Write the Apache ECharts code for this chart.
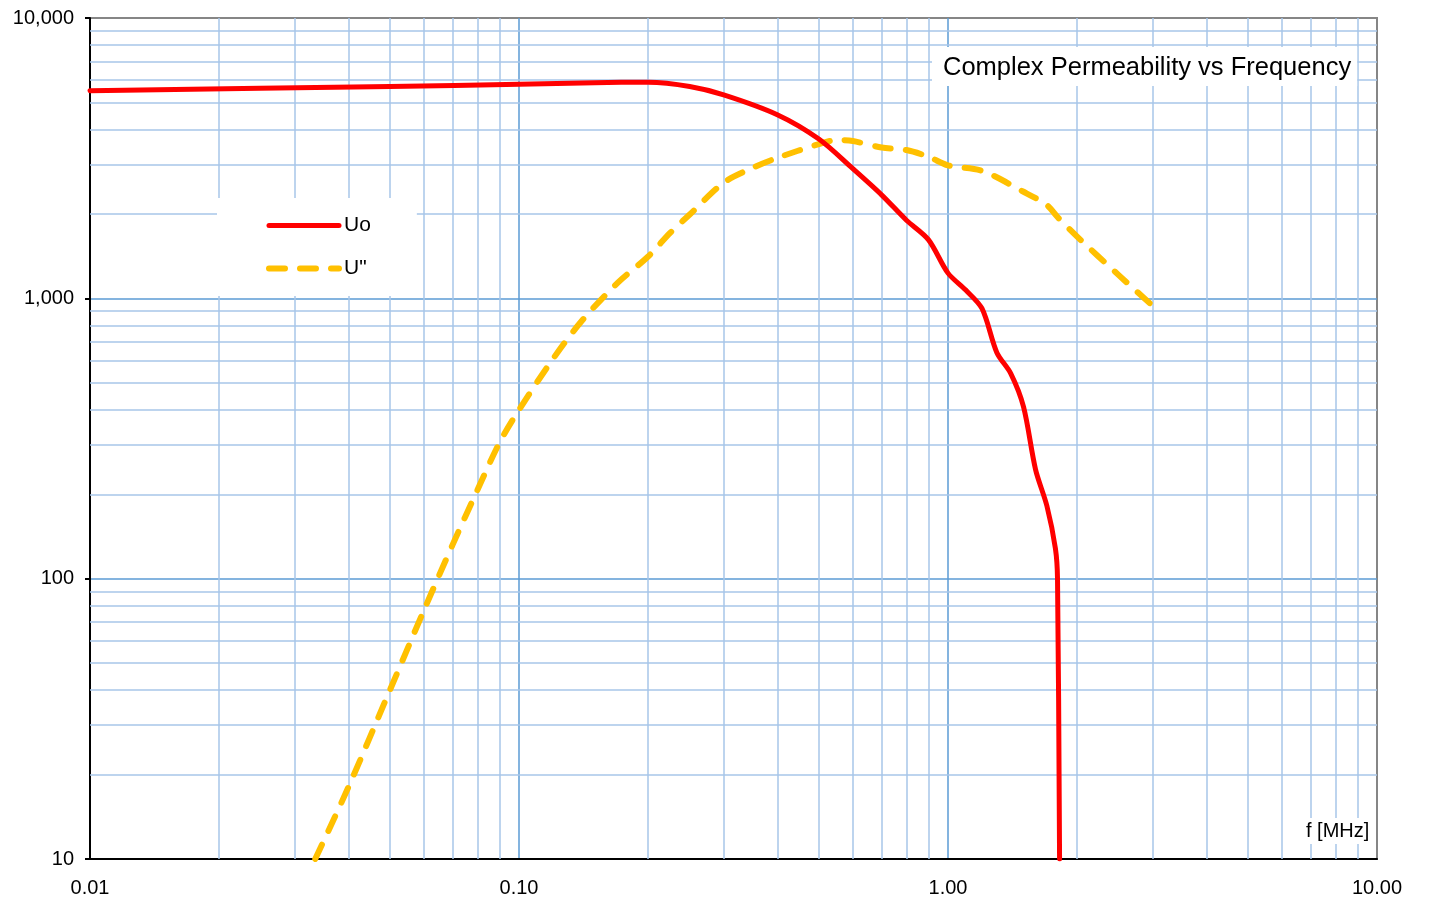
<!DOCTYPE html>
<html>
<head>
<meta charset="utf-8">
<script src="https://cdn.jsdelivr.net/npm/echarts@6/dist/echarts.min.js"></script>
<style>
html,body{margin:0;padding:0;background:#fff;}
#chart{width:1429px;height:902px;}
</style>
</head>
<body>
<div id="chart"></div>
<script>
// ---- data ----
const freqUo = [0.01, 0.05, 0.1, 0.15, 0.2, 0.25, 0.3, 0.4, 0.5, 0.6, 0.7, 0.8, 0.9, 1.0, 1.1, 1.2, 1.3, 1.4, 1.5, 1.6, 1.7, 1.78, 1.8, 1.82];
const valUo  = [5500, 5700, 5800, 5880, 5900, 5700, 5320, 4520, 3700, 2900, 2340, 1900, 1620, 1230, 1070, 920, 640, 540, 410, 245, 182, 128, 100, 10];
const freqU2 = [0.0335, 0.04, 0.05, 0.06, 0.07, 0.08, 0.09, 0.1, 0.12, 0.14, 0.17, 0.2, 0.225, 0.25, 0.3, 0.35, 0.4, 0.5, 0.55, 0.6, 0.7, 0.8, 0.9, 1.0, 1.2, 1.5, 1.7, 1.8, 2.0, 2.5, 3.0];
const valU2  = [10, 18, 40, 77, 132, 207, 305, 400, 608, 830, 1138, 1410, 1711, 1990, 2585, 2920, 3170, 3550, 3670, 3640, 3450, 3380, 3200, 2980, 2850, 2400, 2150, 1950, 1660, 1210, 940];
const seriesNames = ['Uo', 'U"'];
const chartTitle = 'Complex Permeability vs Frequency';
const xAxisName = 'f [MHz]';
const xDecades = [0.01, 0.1, 1];
const yDecades = [10, 100, 1000];
const minorMultipliers = [2, 3, 4, 5, 6, 7, 8, 9];

const FONT = "'Liberation Sans', Arial, sans-serif";
const minorX = [], minorY = [];
xDecades.forEach(d => minorMultipliers.forEach(m => minorX.push(+(d * m).toPrecision(6))));
yDecades.forEach(d => minorMultipliers.forEach(m => minorY.push(+(d * m).toPrecision(6))));

const zip = (xs, ys) => xs.map((x, i) => [x, ys[i]]);

const chart = echarts.init(document.getElementById('chart'), null, {renderer: 'canvas'});
chart.setOption({
  animation: false,
  backgroundColor: '#ffffff',
  title: [
    {
      text: chartTitle,
      left: 932, top: 47,
      padding: [8, 6, 5, 11],
      backgroundColor: '#ffffff',
      z: 10,
      textStyle: {fontFamily: FONT, fontSize: 25.5, fontWeight: 'normal', color: '#000'}
    },
    {
      text: xAxisName,
      left: 1302, top: 818,
      padding: [3, 4, 3, 4],
      backgroundColor: '#ffffff',
      z: 10,
      textStyle: {fontFamily: FONT, fontSize: 20, fontWeight: 'normal', color: '#000'}
    }
  ],
  legend: {
    data: [
      {name: seriesNames[0], lineStyle: {width: 5}},
      {name: seriesNames[1], lineStyle: {width: 6}}
    ],
    orient: 'vertical',
    left: 217, top: 198,
    padding: [17, 46, 17, 49],
    backgroundColor: '#ffffff',
    z: 10,
    itemWidth: 70, itemHeight: 14, itemGap: 22,
    itemStyle: {opacity: 0},
    textStyle: {fontFamily: FONT, fontSize: 21, color: '#000', padding: [0, 0, 0, 0]},
    selectedMode: false
  },
  grid: {
    left: 90, right: 52, top: 18, bottom: 43,
    show: true, borderColor: '#868686', borderWidth: 2, backgroundColor: 'transparent'
  },
  xAxis: {
    type: 'log', logBase: 10, min: 0.01, max: 10,
    splitNumber: 3,
    axisLine: {show: true, onZero: false, lineStyle: {color: '#000', width: 2}},
    axisTick: {show: false},
    splitLine: {show: true, showMaxLine: false, showMinLine: false, lineStyle: {color: '#5b9bd5', width: 1.5}},
    axisLabel: {
      fontFamily: FONT, fontSize: 20, color: '#000', margin: 19,
      formatter: v => Number(v).toFixed(2)
    }
  },
  yAxis: {
    type: 'log', logBase: 10, min: 10, max: 10000,
    splitNumber: 3,
    axisLine: {show: true, onZero: false, lineStyle: {color: '#000', width: 2}},
    axisTick: {show: true, length: 5, lineStyle: {color: '#000', width: 2}},
    splitLine: {show: true, showMaxLine: false, showMinLine: false, lineStyle: {color: '#5b9bd5', width: 1.5}},
    axisLabel: {
      fontFamily: FONT, fontSize: 20, color: '#000', margin: 16,
      formatter: v => Math.round(v).toLocaleString('en-US')
    }
  },
  series: [
    {
      name: 'minor-grid',
      type: 'line',
      data: [],
      silent: true,
      z: 1,
      markLine: {
        silent: true,
        z: 1,
        animation: false,
        symbol: ['none', 'none'],
        label: {show: false},
        emphasis: {disabled: true},
        lineStyle: {color: '#a7c6e8', width: 1.5, type: 'solid'},
        data: minorX.map(v => ({xAxis: v})).concat(minorY.map(v => ({yAxis: v})))
      }
    },
    {
      name: seriesNames[0],
      type: 'line',
      data: zip(freqUo, valUo),
      showSymbol: false,
      symbol: 'none',
      smooth: 0.3,
      z: 5,
      itemStyle: {color: '#ff0000'},
      lineStyle: {color: '#ff0000', width: 5, cap: 'round', join: 'round'}
    },
    {
      name: seriesNames[1],
      type: 'line',
      data: zip(freqU2, valU2),
      showSymbol: false,
      symbol: 'none',
      smooth: 0.3,
      z: 4,
      itemStyle: {color: '#ffc000'},
      lineStyle: {color: '#ffc000', width: 6, type: [16, 15], cap: 'round', join: 'round'}
    }
  ]
});
</script>
</body>
</html>
